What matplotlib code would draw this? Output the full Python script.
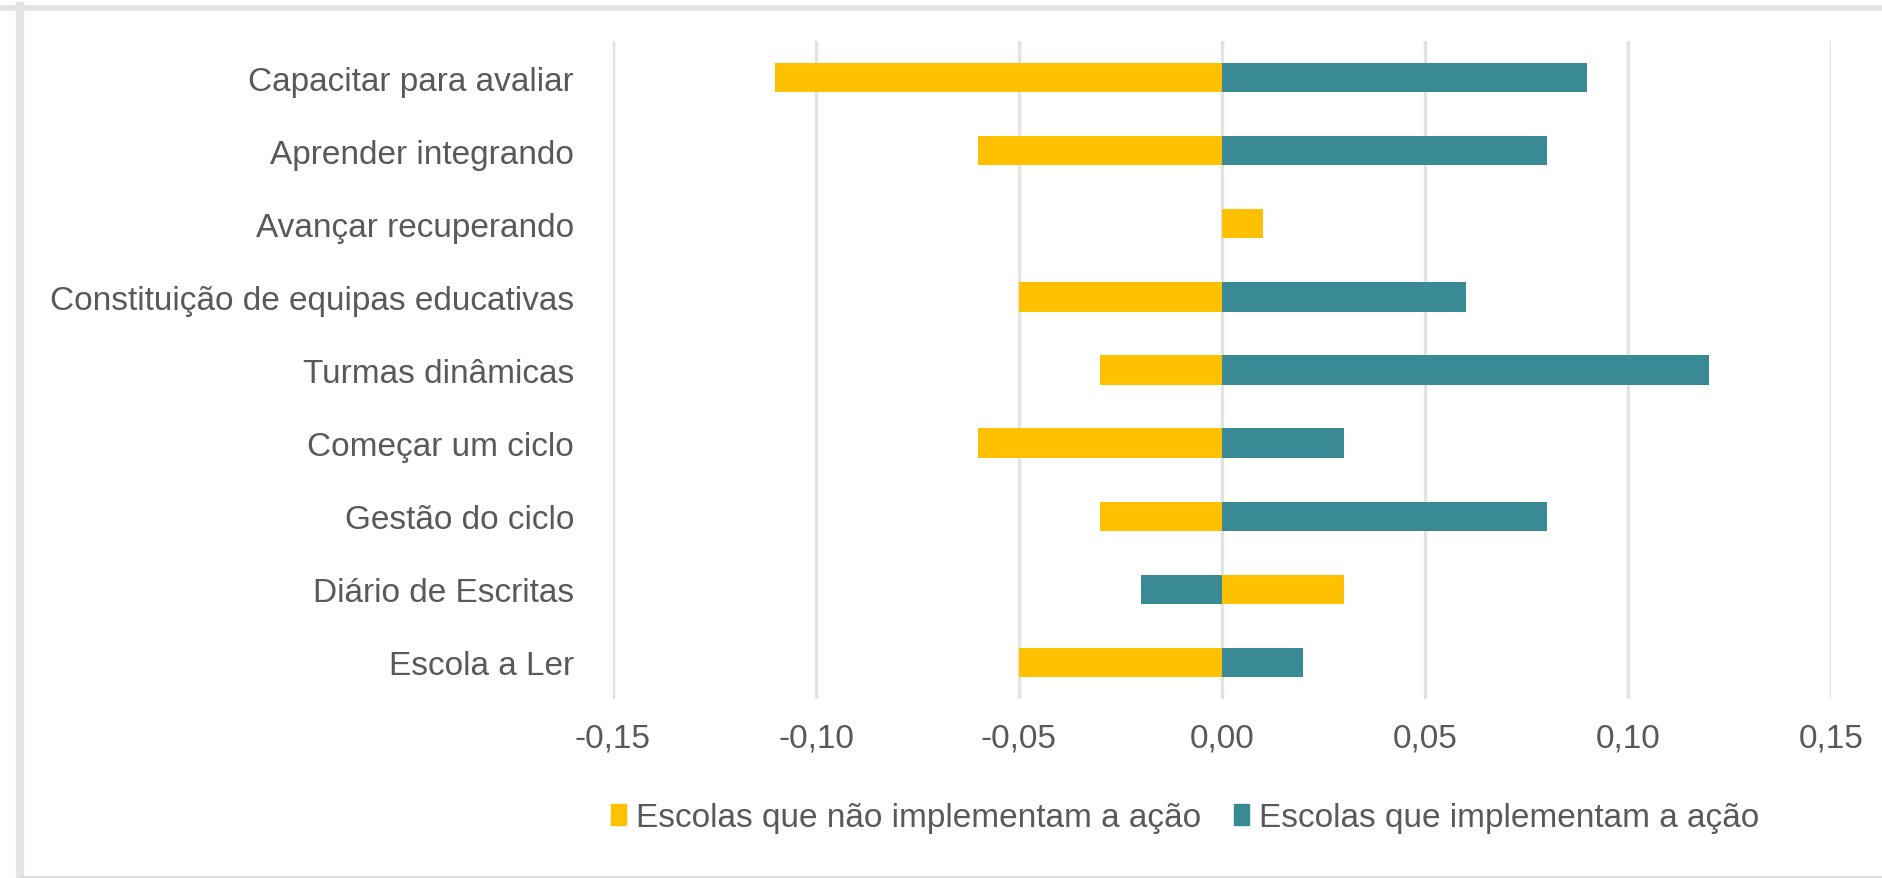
import numpy as np
import matplotlib.pyplot as plt
from matplotlib.lines import Line2D

categories = ['Capacitar para avaliar', 'Aprender integrando', 'Avançar recuperando',
              'Constituição de equipas educativas', 'Turmas dinâmicas', 'Começar um ciclo',
              'Gestão do ciclo', 'Diário de Escritas', 'Escola a Ler']
nao_implementam = [-0.11, -0.06, 0.01, -0.05, -0.03, -0.06, -0.03, 0.03, -0.05]
implementam = [0.09, 0.08, 0.0, 0.06, 0.12, 0.03, 0.08, -0.02, 0.02]
xticks = [-0.15, -0.10, -0.05, 0.0, 0.05, 0.10, 0.15]
xlabels = ['-0,15', '-0,10', '-0,05', '0,00', '0,05', '0,10', '0,15']
series_names = ['Escolas que não implementam a ação', 'Escolas que implementam a ação']

plt.rcParams['font.family'] = ['Liberation Sans', 'DejaVu Sans']
fs = 24

yellow = '#FFC000'
teal = '#3A8A96'
txt = '#595959'

W, H = 1882, 879
fig = plt.figure(figsize=(W / 100, H / 100), dpi=100)
ax = fig.add_axes([613 / W, 1 - 700 / H, (1831 - 613) / W, (700 - 42) / H])

y = np.arange(len(categories))
ax.barh(y, nao_implementam, height=0.4, color=yellow, zorder=2)
ax.barh(y, implementam, height=0.4, color=teal, zorder=2)

ax.set_xlim(-0.15, 0.15)
ax.set_ylim(len(categories) - 0.5, -0.5)
ax.set_xticks(xticks)
ax.set_xticklabels(xlabels)
ax.set_yticks(y)
ax.set_yticklabels(categories)
ax.tick_params(axis='both', length=0, labelsize=fs, labelcolor=txt)
ax.tick_params(axis='x', pad=17)
ax.tick_params(axis='y', pad=28)
ax.grid(axis='x', color='#E3E3E3', linewidth=2.5, zorder=0)
ax.set_axisbelow(True)
for s in ax.spines.values():
    s.set_visible(False)

handles = [plt.Rectangle((0, 0), 1, 1, color=yellow), plt.Rectangle((0, 0), 1, 1, color=teal)]
fig.legend(handles, series_names, loc='center', bbox_to_anchor=(1185 / W, 1 - 819 / H),
           ncol=2, frameon=False, fontsize=fs, labelcolor=txt,
           handlelength=0.45, handleheight=0.6, handletextpad=0.3, columnspacing=1.0)

# outer chart border (top, left, bottom)
fig.add_artist(Line2D([0, 1], [1 - 9 / H, 1 - 9 / H], transform=fig.transFigure, color='#E3E3E3', linewidth=4))
fig.add_artist(Line2D([20 / W, 20 / W], [0, 1 - 7 / H], transform=fig.transFigure, color='#E3E3E3', linewidth=6))
fig.add_artist(Line2D([20 / W, 1], [1.5 / H, 1.5 / H], transform=fig.transFigure, color='#D9D9D9', linewidth=2))

fig.savefig('out.png', dpi=100)
